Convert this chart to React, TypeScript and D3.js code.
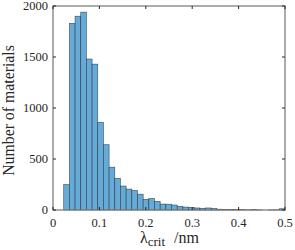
import { useEffect, useRef } from "react";
import * as d3 from "d3";

// histogram of critical wavelength, 39 bins from 0.0231 to 0.5 nm
const binStart = 0.0231;
const binEnd = 0.5;
const counts = [
  250, 1830, 1900, 1940, 1480, 1430, 860, 640, 420, 310, 235, 205, 192, 155,
  105, 112, 85, 58, 57, 49, 36, 29, 26, 20, 17, 20, 15, 8, 4, 6, 5, 4, 1, 5, 1,
  0, 1, 2, 12,
];
const xTicks = [0, 0.1, 0.2, 0.3, 0.4, 0.5];
const yTicks = [0, 500, 1000, 1500, 2000];

const margin = { top: 6, right: 10, bottom: 40, left: 53 },
  width = 295 - margin.left - margin.right,
  height = 250 - margin.top - margin.bottom;

const font = "'Liberation Serif', 'Times New Roman', serif";

function App() {
  const svgRef = useRef(null);

  const buildSVG = () => {
    d3.select(svgRef.current).selectAll("*").remove();

    const svg = d3
      .select(svgRef.current)
      .attr("width", 295)
      .attr("height", 250)
      .append("g")
      .attr("transform", "translate(" + margin.left + "," + margin.top + ")");

    const x = d3.scaleLinear().domain([0, 0.5]).range([0, width]);
    const y = d3.scaleLinear().domain([0, 2000]).range([height, 0]);
    const bw = (binEnd - binStart) / counts.length;

    svg
      .selectAll("rect.bar")
      .data(counts)
      .enter()
      .append("rect")
      .attr("class", "bar")
      .attr("x", (d, i) => x(binStart + i * bw))
      .attr("width", x(bw) - x(0))
      .attr("y", (d) => y(d))
      .attr("height", (d) => y(0) - y(d))
      .attr("fill", "#66aad7")
      .attr("stroke", "#1b2a36")
      .attr("stroke-opacity", 0.8)
      .attr("stroke-width", 0.6);

    const axisColor = "#808080";

    // box
    svg
      .append("rect")
      .attr("x", 0)
      .attr("y", 0)
      .attr("width", width)
      .attr("height", height)
      .attr("fill", "none")
      .attr("stroke", axisColor)
      .attr("stroke-width", 1.3);

    const tl = 3;
    xTicks.forEach((t) => {
      svg
        .append("line")
        .attr("x1", x(t))
        .attr("x2", x(t))
        .attr("y1", height)
        .attr("y2", height - tl)
        .attr("stroke", "#262626");
      svg
        .append("line")
        .attr("x1", x(t))
        .attr("x2", x(t))
        .attr("y1", 0)
        .attr("y2", tl)
        .attr("stroke", "#262626");
      svg
        .append("text")
        .attr("x", x(t))
        .attr("y", height + 16.5)
        .attr("text-anchor", "middle")
        .style("font-family", font)
        .style("font-size", "12.5px")
        .attr("fill", "#262626")
        .text(t === 0 ? "0" : String(t));
    });

    yTicks.forEach((t) => {
      svg
        .append("line")
        .attr("x1", 0)
        .attr("x2", tl)
        .attr("y1", y(t))
        .attr("y2", y(t))
        .attr("stroke", "#262626");
      svg
        .append("line")
        .attr("x1", width)
        .attr("x2", width - tl)
        .attr("y1", y(t))
        .attr("y2", y(t))
        .attr("stroke", "#262626");
      svg
        .append("text")
        .attr("x", -5)
        .attr("y", y(t))
        .attr("dy", "0.35em")
        .attr("text-anchor", "end")
        .style("font-family", font)
        .style("font-size", "12.5px")
        .attr("fill", "#262626")
        .text(String(t));
    });

    // y label
    svg
      .append("text")
      .attr("transform", "translate(" + (-39.5) + "," + (height / 2 + 2.5) + ") rotate(-90)")
      .attr("text-anchor", "middle")
      .style("font-family", font)
      .style("font-size", "15.8px")
      .attr("fill", "#262626")
      .text("Number of materials");

    // x label
    const xl = svg
      .append("text")
      .attr("x", 87)
      .attr("y", height + 33)
      .style("font-family", font)
      .style("font-size", "16px")
      .attr("fill", "#262626");
    xl.append("tspan").text("λ");
    xl.append("tspan")
      .attr("dy", 3)
      .style("font-size", "13px")
      .text("crit");
    xl.append("tspan").attr("x", 121).attr("dy", -3).text("/nm");
  };

  useEffect(buildSVG, []);

  return (
    <div style={{ position: "absolute", left: 0, top: 0 }}>
      <svg ref={svgRef}></svg>
    </div>
  );
}

export default App;
